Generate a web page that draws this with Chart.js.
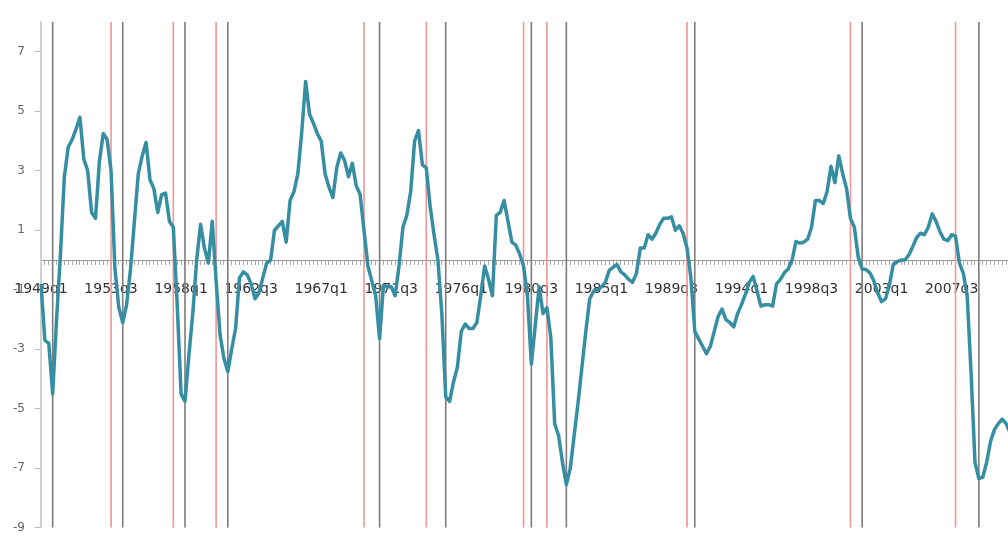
<!DOCTYPE html>
<html>
<head>
<meta charset="utf-8">
<script src="https://cdn.jsdelivr.net/npm/chart.js@4.4.0/dist/chart.umd.min.js"></script>
<style>
  html, body { margin: 0; padding: 0; background: #fff; overflow: hidden; }
  #wrap { width: 1010px; height: 545px; }
</style>
</head>
<body>
<div id="wrap"><canvas id="gapChart" width="1010" height="545"></canvas></div>
<script>
// quarterly labels 1949q1 .. 2011q2
const quarters = [];
for (let y = 1949; y <= 2011; y++) {
    for (let q = 1; q <= 4; q++) {
        if (quarters.length < 250) quarters.push(y + 'q' + q);
    }
}

const tickLabels = ['1949q1', '1953q3', '1958q1', '1962q3', '1967q1', '1971q3', '1976q1',
    '1980q3', '1985q1', '1989q3', '1994q1', '1998q3', '2003q1', '2007q3'];

const yTicks = [-9, -7, -5, -3, -1, 1, 3, 5, 7];

// business cycle peaks (red) and troughs (grey)
const peaks = ['1953q3', '1957q3', '1960q2', '1969q4', '1973q4', '1980q1', '1981q3', '1990q3', '2001q1', '2007q4'];
const troughs = ['1949q4', '1954q2', '1958q2', '1961q1', '1970q4', '1975q1', '1980q3', '1982q4', '1991q1', '2001q4', '2009q2'];

const gap = [
    -0.8, -2.7, -2.8, -4.5, -2.0, 0.2, 2.8, 3.8, 4.05, 4.4,
    4.8, 3.4, 3.0, 1.6, 1.4, 3.3, 4.25, 4.05, 3.0, -0.3,
    -1.6, -2.1, -1.5, -0.3, 1.3, 2.9, 3.5, 3.95, 2.7, 2.4,
    1.6, 2.2, 2.25, 1.3, 1.1, -1.5, -4.5, -4.75, -3.2, -1.8,
    0.0, 1.2, 0.4, -0.1, 1.3, -0.7, -2.5, -3.3, -3.75, -3.0,
    -2.3, -0.6, -0.4, -0.5, -0.8, -1.3, -1.1, -0.6, -0.1, 0.0,
    1.0, 1.15, 1.3, 0.6, 2.0, 2.3, 2.9, 4.3, 6.0, 4.9,
    4.6, 4.25, 4.0, 2.9, 2.45, 2.1, 3.1, 3.6, 3.35, 2.8,
    3.25, 2.5, 2.2, 1.0, -0.2, -0.7, -1.2, -2.65, -0.85, -0.9,
    -0.9, -1.2, -0.2, 1.1, 1.5, 2.3, 4.0, 4.35, 3.2, 3.1,
    1.8, 0.85, 0.0, -1.8, -4.6, -4.75, -4.1, -3.6, -2.4, -2.15,
    -2.3, -2.3, -2.1, -1.2, -0.2, -0.65, -1.2, 1.5, 1.6, 2.0,
    1.3, 0.6, 0.5, 0.2, -0.2, -1.2, -3.5, -2.2, -0.9, -1.8,
    -1.6, -2.6, -5.5, -5.9, -6.8, -7.55, -7.0, -5.9, -4.8, -3.6,
    -2.4, -1.3, -1.05, -1.0, -0.9, -0.75, -0.35, -0.25, -0.15, -0.4,
    -0.5, -0.65, -0.75, -0.45, 0.4, 0.4, 0.85, 0.7, 0.9, 1.2,
    1.4, 1.4, 1.45, 1.0, 1.15, 0.9, 0.4, -0.6, -2.4, -2.65,
    -2.9, -3.15, -2.9, -2.4, -1.9, -1.65, -2.0, -2.1, -2.25, -1.8,
    -1.5, -1.15, -0.75, -0.55, -1.05, -1.55, -1.5, -1.5, -1.55, -0.8,
    -0.65, -0.43, -0.3, 0.0, 0.62, 0.57, 0.6, 0.7, 1.1, 2.0,
    2.0, 1.9, 2.3, 3.15, 2.6, 3.5, 2.9, 2.4, 1.4, 1.1,
    0.1, -0.3, -0.32, -0.43, -0.7, -1.1, -1.4, -1.3, -0.85, -0.15,
    -0.05, 0.0, 0.0, 0.17, 0.45, 0.75, 0.9, 0.85, 1.1, 1.55,
    1.3, 0.95, 0.7, 0.65, 0.85, 0.8, -0.1, -0.45, -1.2, -3.8,
    -6.8, -7.35, -7.3, -6.8, -6.1, -5.7, -5.5, -5.35, -5.5, -5.8
];

const yMin = -9, yMax = 8;

function linhaVertical(q, cor, largura) {
    return {
        data: [{ x: q, y: yMax }, { x: q, y: yMin }],
        borderColor: cor,
        borderWidth: largura,
        pointRadius: 0,
        order: 1
    };
}

const datasets = [{
    data: gap,
    borderColor: '#358ea2',
    borderWidth: 3.5,
    borderJoinStyle: 'round',
    pointRadius: 0,
    tension: 0,
    order: 0
}];
peaks.forEach(q => datasets.push(linhaVertical(q, '#ef9696', 1.6)));
troughs.forEach(q => datasets.push(linhaVertical(q, '#7c7c7c', 1.6)));

const config = {
    type: 'line',
    data: { labels: quarters, datasets: datasets },
    options: {
        responsive: false,
        animation: false,
        devicePixelRatio: 1,
        layout: { padding: { top: 22, bottom: 8, left: 0, right: 0 } },
        plugins: {
            legend: { display: false },
            tooltip: { enabled: false }
        },
        scales: {
            x: {
                type: 'category',
                position: { y: 0 },
                afterFit: function (scale) {
                    // the series runs to the right edge, no room kept for labels
                    scale.paddingLeft = 0;
                    scale.paddingRight = 0;
                },
                grid: { drawOnChartArea: false, drawTicks: true, tickLength: 4, color: '#aaa' },
                border: { display: true, color: '#999', width: 1 },
                ticks: {
                    autoSkip: false,
                    maxRotation: 0,
                    minRotation: 0,
                    padding: 17,
                    color: '#333',
                    font: { family: 'DejaVu Sans', size: 14 },
                    callback: function (val, idx) {
                        const q = quarters[idx];
                        return tickLabels.includes(q) ? q : '';
                    }
                }
            },
            y: {
                min: yMin,
                max: yMax,
                afterBuildTicks: function (scale) {
                    scale.ticks = yTicks.map(v => ({ value: v }));
                },
                afterFit: function (scale) {
                    scale.width = 41;
                },
                grid: { drawOnChartArea: false, drawTicks: true, tickLength: 6, color: '#bbb' },
                border: { display: true, color: '#d0d0d0', width: 2 },
                ticks: {
                    padding: 10,
                    color: '#666',
                    font: { family: 'DejaVu Sans', size: 12 }
                }
            }
        }
    }
};

const gapChart = new Chart(document.getElementById('gapChart'), config);
</script>
</body>
</html>
